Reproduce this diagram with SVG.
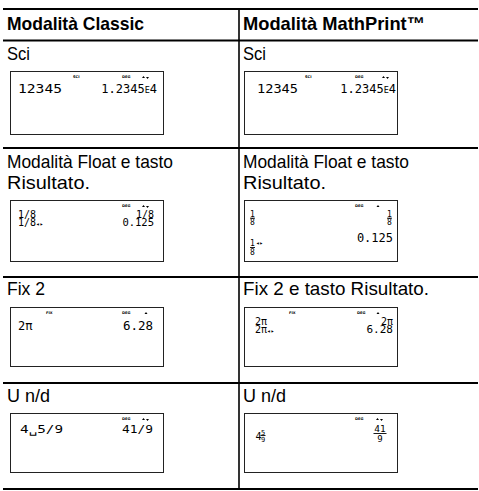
<svg xmlns="http://www.w3.org/2000/svg" width="479" height="491" viewBox="0 0 479 491">
<style>
.lbl{font-family:"Liberation Sans Narrow","Liberation Sans",Arial,sans-serif;font-size:18.5px;fill:#000}
.hdr{font-family:"Liberation Sans Narrow","Liberation Sans",Arial,sans-serif;font-size:18.5px;font-weight:bold;fill:#000}
.rule{stroke:#000;stroke-width:2.2;fill:none}
.vrule{stroke:#000;stroke-width:1.6;fill:none}
.scr{fill:#fff;stroke:#222;stroke-width:1}
.lcd{font-family:"DejaVu Sans Mono","Liberation Mono",monospace;fill:#000}
.ind{font-family:"DejaVu Sans","Liberation Sans",sans-serif;font-size:3.6px;fill:#000;font-weight:bold}
.ar{fill:#000}
.bar{stroke:#000;stroke-width:0.9}
</style>
<rect width="479" height="491" fill="#fff"/>
<g id="grid">
<line class="rule" x1="3" y1="9" x2="478" y2="9"/>
<line class="rule" x1="3" y1="40.5" x2="478" y2="40.5"/>
<line class="rule" x1="3" y1="148" x2="478" y2="148"/>
<line class="rule" x1="3" y1="277" x2="478" y2="277"/>
<line class="rule" x1="3" y1="383" x2="478" y2="383"/>
<line class="rule" x1="3" y1="489" x2="478" y2="489"/>
<line class="vrule" x1="239" y1="9" x2="239" y2="489"/>
</g>

<g id="hdr-classic"><text class="hdr" x="7" y="30" textLength="137" lengthAdjust="spacingAndGlyphs">Modalità Classic</text></g>
<g id="hdr-mathprint"><text class="hdr" x="243" y="30" textLength="182" lengthAdjust="spacingAndGlyphs">Modalità MathPrint™</text></g>

<g id="sci-classic">
<text class="lbl" x="7" y="60" textLength="23" lengthAdjust="spacingAndGlyphs">Sci</text>
<rect class="scr" x="10.5" y="71.5" width="153" height="63"/>
<text class="ind" x="73" y="78">SCI</text>
<text class="ind" x="122" y="78">DEG</text>
<polygon class="ar" points="142,78 143.5,76 145,78"/><polygon class="ar" points="146,77 147.5,79 149,77"/>
<text class="lcd" x="18" y="93" font-size="12" textLength="44" lengthAdjust="spacingAndGlyphs">12345</text>
<text class="lcd" x="157" y="93" font-size="12" text-anchor="end">1.2345<tspan font-size="8.5">E</tspan>4</text>
</g>

<g id="sci-mathprint">
<text class="lbl" x="243" y="60" textLength="23" lengthAdjust="spacingAndGlyphs">Sci</text>
<rect class="scr" x="244.5" y="71.5" width="153" height="63"/>
<text class="ind" x="305" y="78">SCI</text>
<text class="ind" x="355" y="78">DEG</text>
<polygon class="ar" points="382,78 383.5,76 385,78"/><polygon class="ar" points="386,77 387.5,79 389,77"/>
<text class="lcd" x="257" y="93" font-size="12" textLength="41" lengthAdjust="spacingAndGlyphs">12345</text>
<text class="lcd" x="396" y="93" font-size="12" text-anchor="end">1.2345<tspan font-size="8.5">E</tspan>4</text>
</g>

<g id="float-classic">
<text class="lbl" x="7" y="168" textLength="166" lengthAdjust="spacingAndGlyphs">Modalità Float e tasto</text>
<text class="lbl" x="7" y="189" textLength="83" lengthAdjust="spacingAndGlyphs">Risultato.</text>
<rect class="scr" x="10.5" y="200.5" width="153" height="61"/>
<text class="ind" x="122" y="207">DEG</text>
<polygon class="ar" points="142,207 143.5,205 145,207"/><polygon class="ar" points="146,206 147.5,208 149,206"/>
<text class="lcd" font-size="10"><tspan x="18" y="218">1/8</tspan><tspan x="18" y="226">1/8<tspan font-size="6">◂▸</tspan></tspan></text>
<text class="lcd" font-size="10" text-anchor="end"><tspan x="154" y="218">1/8</tspan><tspan x="154" y="226" font-size="10.5">0.125</tspan></text>
</g>

<g id="float-mathprint">
<text class="lbl" x="243" y="168" textLength="166" lengthAdjust="spacingAndGlyphs">Modalità Float e tasto</text>
<text class="lbl" x="243" y="189" textLength="83" lengthAdjust="spacingAndGlyphs">Risultato.</text>
<rect class="scr" x="244.5" y="200.5" width="153" height="61"/>
<text class="ind" x="355" y="207">DEG</text>
<polygon class="ar" points="376.5,207 378,205 379.5,207"/>
<text class="lcd" font-size="8" text-anchor="middle"><tspan x="252.5" y="217">1</tspan><tspan x="252.5" y="225">8</tspan></text>
<line class="bar" x1="250" y1="218.2" x2="255" y2="218.2"/>
<text class="lcd" font-size="8" text-anchor="middle"><tspan x="252.5" y="246">1</tspan><tspan x="252.5" y="255">8</tspan></text>
<line class="bar" x1="250" y1="247.5" x2="255" y2="247.5"/>
<text class="lcd" x="256" y="245" font-size="6">◂▸</text>
<text class="lcd" font-size="8" text-anchor="middle"><tspan x="389.5" y="217">1</tspan><tspan x="389.5" y="225">8</tspan></text>
<line class="bar" x1="387" y1="218.2" x2="392" y2="218.2"/>
<text class="lcd" x="393" y="242" font-size="12" text-anchor="end">0.125</text>
</g>

<g id="fix-classic">
<text class="lbl" x="7" y="295" textLength="38" lengthAdjust="spacingAndGlyphs">Fix 2</text>
<rect class="scr" x="10.5" y="307.5" width="153" height="59"/>
<text class="ind" x="46" y="314">FIX</text>
<text class="ind" x="122" y="314">DEG</text>
<polygon class="ar" points="144.5,314 146,312 147.5,314"/>
<text class="lcd" x="18" y="330" font-size="12">2π</text>
<text class="lcd" x="153" y="330" font-size="12.5" text-anchor="end">6.28</text>
</g>

<g id="fix-mathprint">
<text class="lbl" x="243" y="295" textLength="186" lengthAdjust="spacingAndGlyphs">Fix 2 e tasto Risultato.</text>
<rect class="scr" x="244.5" y="307.5" width="153" height="59"/>
<text class="ind" x="289" y="314">FIX</text>
<text class="ind" x="357" y="314">DEG</text>
<polygon class="ar" points="376.5,314 378,312 379.5,314"/>
<text class="lcd" font-size="10"><tspan x="255" y="325">2π</tspan><tspan x="255" y="333">2π<tspan font-size="6">◂▸</tspan></tspan></text>
<text class="lcd" font-size="10" text-anchor="end"><tspan x="393" y="325">2π</tspan><tspan x="393" y="333" font-size="11">6.28</tspan></text>
</g>

<g id="und-classic">
<text class="lbl" x="7" y="402" textLength="43" lengthAdjust="spacingAndGlyphs">U n/d</text>
<rect class="scr" x="10.5" y="413.5" width="153" height="59"/>
<text class="ind" x="122" y="420">DEG</text>
<polygon class="ar" points="142,420 143.5,418 145,420"/><polygon class="ar" points="146,419 147.5,421 149,419"/>
<text class="lcd" x="20" y="433" font-size="11" textLength="43" lengthAdjust="spacingAndGlyphs">4␣5/9</text>
<text class="lcd" x="153" y="433" font-size="11" text-anchor="end" textLength="31" lengthAdjust="spacingAndGlyphs">41/9</text>
</g>

<g id="und-mathprint">
<text class="lbl" x="243" y="402" textLength="43" lengthAdjust="spacingAndGlyphs">U n/d</text>
<rect class="scr" x="244.5" y="413.5" width="153" height="59"/>
<text class="ind" x="355" y="420">DEG</text>
<polygon class="ar" points="376,420 377.5,418 379,420"/><polygon class="ar" points="380,419 381.5,421 383,419"/>
<text class="lcd" x="255.5" y="440" font-size="10">4</text>
<text class="lcd" font-size="7" text-anchor="middle"><tspan x="263" y="434.5">5</tspan><tspan x="263" y="441.5">9</tspan></text>
<line class="bar" x1="260.5" y1="435.5" x2="265.5" y2="435.5"/>
<text class="lcd" text-anchor="middle"><tspan x="380" y="432" font-size="9.5">41</tspan><tspan x="380" y="441.5" font-size="9">9</tspan></text>
<line class="bar" x1="373.5" y1="433.5" x2="386.5" y2="433.5"/>
</g>
</svg>
